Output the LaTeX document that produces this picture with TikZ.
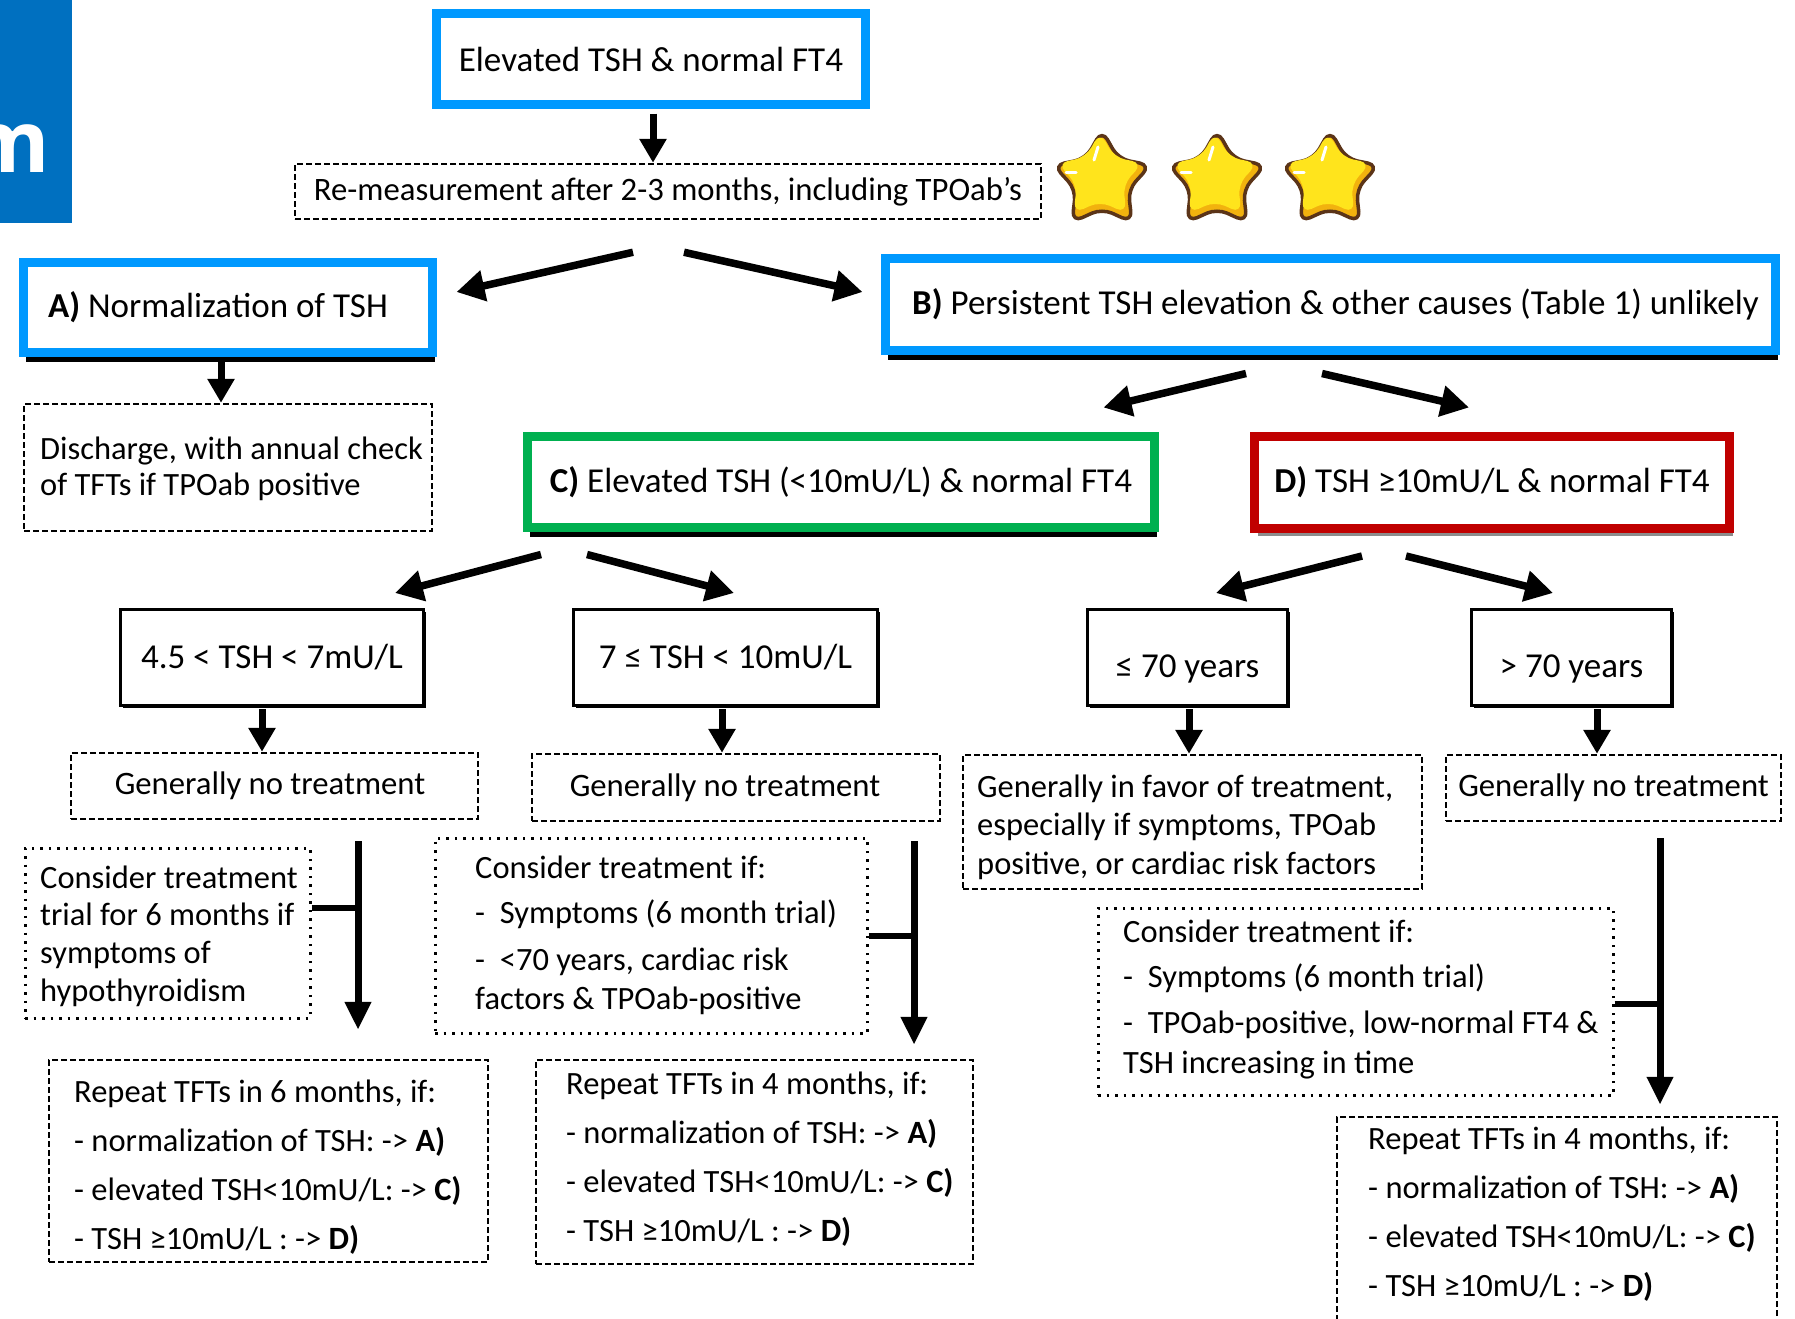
\documentclass[tikz,border=0pt]{standalone}
\usepackage{fontspec}
\setmainfont{Carlito}
\newfontfamily\hdrfont{Open Sans}
\usetikzlibrary{arrows.meta,shapes.geometric,shadows,calc}
\definecolor{hdrblue}{HTML}{0070C0}
\definecolor{boxblue}{HTML}{0099FF}
\definecolor{boxgreen}{HTML}{00B050}
\definecolor{boxred}{HTML}{C00000}
\definecolor{staryel}{HTML}{FFE41C}
\definecolor{starorg}{HTML}{F2B20E}
\definecolor{starbrn}{HTML}{5B3418}
\newcommand{\boxlines}[1]{\begin{tabular}[t]{@{}l@{}}#1\end{tabular}}
\begin{document}
\begin{tikzpicture}[x=1pt,y=-1pt,
  fnt/.style={font=\fontsize{32.7}{40}\selectfont},
  hbox/.style={draw, line width=9pt, fill=white, inner sep=0pt, font=\fontsize{35}{40}\selectfont},
  sbox/.style={draw, line width=3.5pt, fill=white, inner sep=0pt, font=\fontsize{35}{40}\selectfont},
  dbox/.style={draw, line width=2.5pt, dash pattern=on 6pt off 3pt, fill=white, inner sep=0pt, fnt},
  obox/.style={draw, line width=3pt, dash pattern=on 2.5pt off 6pt, inner sep=0pt},
  txt/.style={inner sep=0pt, anchor=base west},
  shad/.style={drop shadow={shadow xshift=2pt,shadow yshift=-9pt,fill=black,opacity=1}},
  gshad/.style={drop shadow={shadow xshift=3pt,shadow yshift=-7pt,fill=black!45,opacity=1}},
  bshad/.style={drop shadow={shadow xshift=2pt,shadow yshift=-2pt,fill=black,opacity=1}},
  arr/.style={line width=7pt, -{Triangle[length=24pt,width=26pt]}},
  darr/.style={line width=7.5pt, -{Triangle[length=28pt,width=30pt]}},
  larr/.style={line width=7pt, -{Triangle[length=28pt,width=25pt]}},
  tick/.style={line width=6.5pt},
  starshape/.style={star, star points=5, star point ratio=1.85, rounded corners=11pt, inner sep=0pt}
]
\useasboundingbox (0,0) rectangle (1795,1318);
\fill[white] (0,0) rectangle (1795,1318);

% header fragment
\node[fill=hdrblue, inner sep=0pt, minimum width=72pt, minimum height=223pt, anchor=north west] (hdr) at (0,0) {};
\begin{scope}
\clip (0,0) rectangle (72,223);
\node[anchor=base east, inner sep=0pt, text=white, font=\hdrfont\bfseries\fontsize{86}{95}\selectfont] (hdrm) at (50,172) {m};
\end{scope}

% top
\node[hbox, draw=boxblue, minimum width=429pt, minimum height=91pt] (top) at (651,59) {Elevated TSH \& normal FT4};
\node[dbox, minimum width=746pt, minimum height=55pt] (rem) at (668,191.5) {Re-measurement after 2-3 months, including TPOab’s};

% stars
\foreach \i/\x in {1/1102,2/1217,3/1330}{
  \node[starshape, minimum size=102pt, fill=starorg, draw=starbrn, line width=3.5pt] (star\i) at (\x,181) {};
  \node[starshape, minimum size=90pt, fill=staryel] (stari\i) at (\x-2,177) {};
  \draw[white, line width=3pt, line cap=round] ($(star\i)+(-4,-34)$) -- ($(star\i)+(-8,-21)$);
  \draw[white, line width=3pt, line cap=round] ($(star\i)+(-36,-9)$) -- ($(star\i)+(-26,-9)$);
}

% A, B
\node[hbox, draw=boxblue, minimum width=409pt, minimum height=90pt, shad] (A) at (228,307.5) {\hspace*{-20pt}\textbf{A)} Normalization of TSH};
\node[hbox, draw=boxblue, minimum width=890pt, minimum height=92pt, shad] (B) at (1330.5,304.5) {\hspace*{10pt}\textbf{B)} Persistent TSH elevation \& other causes (Table 1) unlikely};

\node[dbox, minimum width=408pt, minimum height=127pt] (dis) at (228,467.5) {};
\node[txt, font=\fontsize{32.5}{36}\selectfont] (distxt) at (40,459) {\boxlines{Discharge, with annual check\\of TFTs if TPOab positive}};

% C, D
\node[hbox, draw=boxgreen, minimum width=627pt, minimum height=91pt, shad] (C) at (841,482) {\textbf{C)} Elevated TSH (<10mU/L) \& normal FT4};
\node[hbox, draw=boxred, minimum width=475pt, minimum height=92pt, gshad] (D) at (1492,482.5) {\textbf{D)} TSH ≥10mU/L \& normal FT4};

% ranges
\node[sbox, bshad, minimum width=303pt, minimum height=96pt] (r1) at (272,657.5) {4.5 < TSH < 7mU/L};
\node[sbox, bshad, minimum width=304pt, minimum height=96pt] (r2) at (725.5,657.5) {7 ≤ TSH < 10mU/L};
\node[sbox, bshad, minimum width=200pt, minimum height=96pt, text height=39pt, text depth=0pt] (y1) at (1187.5,657.5) {≤ 70 years};
\node[sbox, bshad, minimum width=200pt, minimum height=96pt, text height=39pt, text depth=0pt] (y2) at (1571.5,657.5) {> 70 years};

% generally
\node[dbox, minimum width=407pt, minimum height=66pt] (g1) at (274.5,786) {\hspace*{-9pt}Generally no treatment};
\node[dbox, minimum width=408pt, minimum height=67pt] (g2) at (736,787.5) {\hspace*{-22pt}Generally no treatment};
\node[dbox, minimum width=459pt, minimum height=134pt] (g3) at (1192.5,822) {};
\node[txt, font=\fontsize{32.5}{38.5}\selectfont] (g3txt) at (977,797) {\boxlines{Generally in favor of treatment,\\especially if symptoms, TPOab\\positive, or cardiac risk factors}};
\node[dbox, minimum width=335pt, minimum height=66pt] (g4) at (1613.5,788) {Generally no treatment};

% consider boxes
\node[obox, minimum width=285pt, minimum height=170pt] (ct1) at (167.5,933) {};
\node[txt, font=\fontsize{32.5}{37.7}\selectfont] (ct1txt) at (40,888) {\boxlines{Consider treatment\\trial for 6 months if\\symptoms of\\hypothyroidism}};
\node[obox, minimum width=432pt, minimum height=195pt] (ct2) at (651,935.5) {};
\node[txt, font=\fontsize{32.5}{39}\selectfont] (ct2txt) at (475,878) {\boxlines{Consider treatment if:\\[6pt]-~~Symptoms (6 month trial)\\[8pt]-~~<70 years, cardiac risk\\factors \& TPOab-positive}};
\node[obox, minimum width=515pt, minimum height=187pt] (ct3) at (1355.5,1001.5) {};
\node[txt, font=\fontsize{32.5}{40}\selectfont] (ct3txt) at (1123,942) {\boxlines{Consider treatment if:\\[5pt]-~~Symptoms (6 month trial)\\[6pt]-~~TPOab-positive, low-normal FT4 \&\\TSH increasing in time}};

% repeat boxes
\node[dbox, minimum width=439pt, minimum height=202pt] (rp1) at (268.5,1161) {};
\node[txt, font=\fontsize{32.5}{49}\selectfont] (rp1txt) at (74,1102) {\boxlines{Repeat TFTs in 6 months, if:\\- normalization of TSH: -> \textbf{A)}\\- elevated TSH<10mU/L: -> \textbf{C)}\\- TSH ≥10mU/L : -> \textbf{D)}}};
\node[dbox, minimum width=437pt, minimum height=204pt] (rp2) at (754.5,1162) {};
\node[txt, font=\fontsize{32.5}{49}\selectfont] (rp2txt) at (566,1094) {\boxlines{Repeat TFTs in 4 months, if:\\- normalization of TSH: -> \textbf{A)}\\- elevated TSH<10mU/L: -> \textbf{C)}\\- TSH ≥10mU/L : -> \textbf{D)}}};
\node[dbox, minimum width=440pt, minimum height=227pt] (rp3) at (1557,1230.5) {};
\node[txt, font=\fontsize{32.5}{49}\selectfont] (rp3txt) at (1368,1149) {\boxlines{Repeat TFTs in 4 months, if:\\- normalization of TSH: -> \textbf{A)}\\- elevated TSH<10mU/L: -> \textbf{C)}\\- TSH ≥10mU/L : -> \textbf{D)}}};

% arrows: top
\coordinate (a0) at ([shift={(2,4.5)}]top.south);
\draw[arr] (a0) -- (a0 |- rem.north);
\draw[darr] ([shift={(-35,32)}]rem.south) -- ([shift={(19.5,-15.5)}]A.east);
\draw[darr] ([shift={(16,32)}]rem.south) -- ([shift={(-18.5,-12.5)}]B.west);
\coordinate (a1) at ([shift={(-7,4.5)}]A.south);
\draw[arr] (a1) -- (a1 |- dis.north);
\draw[darr] ([shift={(-84.5,18.5)}]B.south) -- ([shift={(-55.5,-24.5)}]C.north east);
\draw[darr] ([shift={(-8.5,18.5)}]B.south) -- ([shift={(-23,-24.5)}]D.north);
\draw[darr] ([shift={(-300,22.5)}]C.south) -- ([shift={(123,-14.75)}]r1.north);
\draw[darr] ([shift={(-254,22.5)}]C.south) -- ([shift={(8.5,-14.75)}]r2.north);
\draw[darr] ([shift={(-130,23)}]D.south) -- ([shift={(28.5,-14.75)}]y1.north);
\draw[darr] ([shift={(-86,23)}]D.south) -- ([shift={(-18.5,-14.75)}]y2.north);

\coordinate (d1) at ([shift={(-10,1.75)}]r1.south);
\draw[arr] (d1) -- (d1 |- g1.north);
\coordinate (d2) at ([shift={(-3.5,1.75)}]r2.south);
\draw[arr] (d2) -- (d2 |- g2.north);
\coordinate (d3) at ([shift={(1.5,1.75)}]y1.south);
\draw[arr] (d3) -- (d3 |- g3.north);
\coordinate (d4) at ([shift={(25.5,1.75)}]y2.south);
\draw[arr] (d4) -- (d4 |- g4.north);

% long arrows
\coordinate (l1s) at ([shift={(83.5,21)}]g1.south);
\coordinate (l1e) at (l1s |- rp1.north);
\draw[larr] (l1s) -- ([shift={(0,-29)}]l1e);
\coordinate (t1) at ([shift={(0,-25)}]ct1.east);
\draw[tick] (t1) -- (t1 -| l1s);

\coordinate (l2s) at ([shift={(178,19)}]g2.south);
\coordinate (l2e) at (l2s |- rp2.north);
\draw[larr] (l2s) -- ([shift={(0,-14)}]l2e);
\coordinate (t2) at ([shift={(0,0.5)}]ct2.east);
\draw[tick] (t2) -- (t2 -| l2s);

\coordinate (l3s) at ([shift={(46.5,16)}]g4.south);
\coordinate (l3e) at (l3s |- rp3.north);
\draw[larr] (l3s) -- ([shift={(0,-11)}]l3e);
\coordinate (t3) at ([shift={(0,2.5)}]ct3.east);
\draw[tick] (t3) -- (t3 -| l3s);
\end{tikzpicture}
\end{document}
